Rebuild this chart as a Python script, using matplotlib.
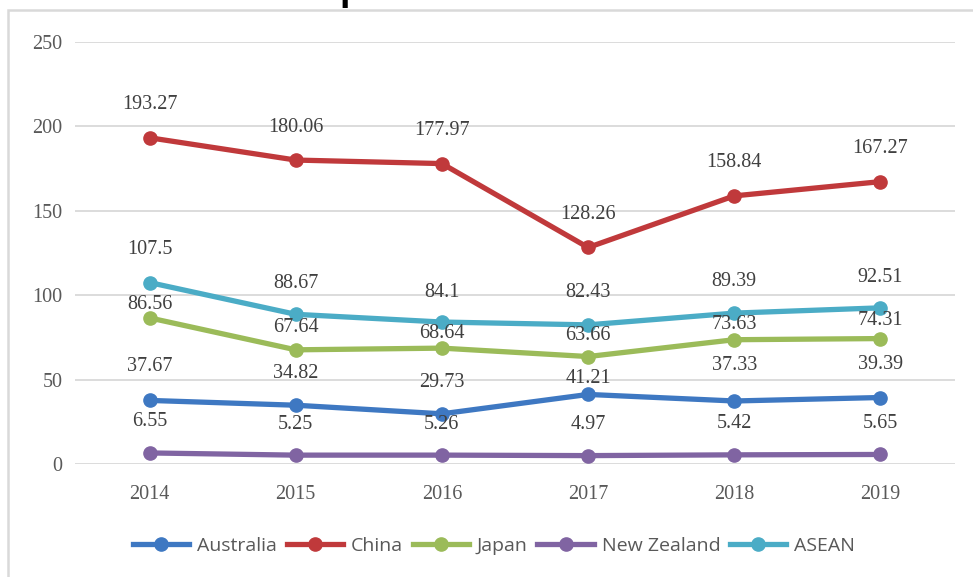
import numpy as np
import matplotlib.pyplot as plt
from matplotlib.patches import Rectangle
from matplotlib.lines import Line2D

years = ["2014", "2015", "2016", "2017", "2018", "2019"]
australia = [37.67, 34.82, 29.73, 41.21, 37.33, 39.39]
china = [193.27, 180.06, 177.97, 128.26, 158.84, 167.27]
japan = [86.56, 67.64, 68.64, 63.66, 73.63, 74.31]
new_zealand = [6.55, 5.25, 5.26, 4.97, 5.42, 5.65]
asean = [107.5, 88.67, 84.1, 82.43, 89.39, 92.51]

series = [
    ("Australia", australia, "#3e78c2"),
    ("China", china, "#c0393b"),
    ("Japan", japan, "#9bbb59"),
    ("New Zealand", new_zealand, "#8064a2"),
    ("ASEAN", asean, "#4bacc6"),
]

# label offsets above the point, in pixels (a few were moved by hand in the original)
offsets = {"Australia": [34, 32, 31, 16, 35, 33], "China": [33] * 6,
           "Japan": [13, 22, 15, 21, 15, 18], "New Zealand": [31] * 6,
           "ASEAN": [33, 31, 30, 32, 32, 30]}

serif = "Liberation Serif"
grey = "#595959"

fig = plt.figure(figsize=(9.73, 5.77), dpi=100)
ax = fig.add_axes([75 / 973, 1 - 464 / 577, 880 / 973, 422 / 577])

# outer chart frame and the clipped title above it
fig.patches.append(Rectangle((8 / 973, -0.05), 1.0, 1 - 10 / 577 + 0.05,
                             transform=fig.transFigure, fill=False,
                             edgecolor="#d9d9d9", lw=1.8))
fig.text(340 / 973, 1.0, "p", fontsize=27, fontweight="bold",
         family="Liberation Sans", va="baseline", ha="left")

x = np.arange(len(years))
for name, vals, col in series:
    ax.plot(x, vals, color=col, lw=3.8, marker="o", ms=9.5, label=name,
            solid_capstyle="round", zorder=3)
    for i, v in enumerate(vals):
        ax.annotate(f"{v:g}", (x[i], v), xytext=(0, offsets[name][i] * 0.72),
                    textcoords="offset points", ha="center", va="center",
                    family=serif, fontsize=14.5, color="#404040", zorder=4)

ax.set_xlim(-0.51, 5.51)
ax.set_ylim(0, 250)
ax.set_yticks([0, 50, 100, 150, 200, 250])
ax.set_xticks(x)
ax.set_xticklabels(years)
ax.grid(axis="y", color="#d9d9d9", lw=1.3)
ax.set_axisbelow(True)
for s in ax.spines.values():
    s.set_visible(False)
ax.tick_params(length=0, labelcolor=grey, labelsize=14.5)
ax.tick_params(axis="y", pad=9)
ax.tick_params(axis="x", pad=15)
for lab in ax.get_xticklabels() + ax.get_yticklabels():
    lab.set_family(serif)

handles = [Line2D([], [], color=c, lw=3.8, marker="o", ms=9.5) for _, _, c in series]
leg = fig.legend(handles, [n for n, _, _ in series], loc="center",
                 bbox_to_anchor=(494 / 973, 1 - 546 / 577), ncol=5, frameon=False,
                 handlelength=2.9, handletextpad=0.4, columnspacing=0.5,
                 prop={"family": "Open Sans", "size": 14})
for t in leg.get_texts():
    t.set_color(grey)

fig.savefig("out.png", dpi=100)
